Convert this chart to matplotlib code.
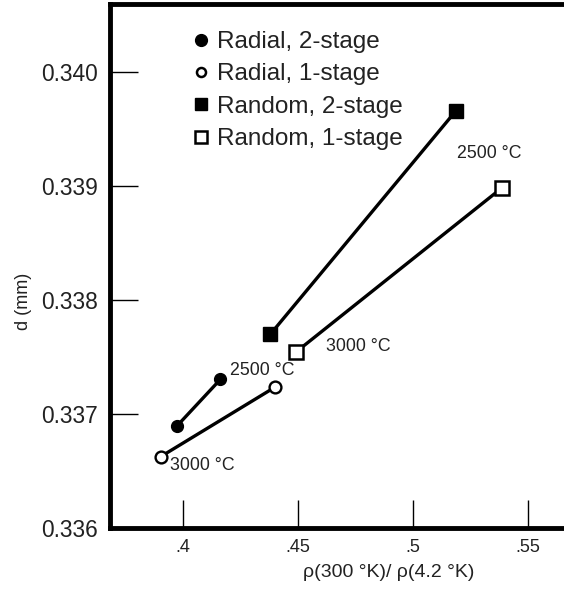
import matplotlib
matplotlib.use("Agg")
import matplotlib.pyplot as plt
from matplotlib.lines import Line2D

plt.rcParams['font.family'] = ['Liberation Sans', 'DejaVu Sans']

# Data
radial_2stage_x = [0.3973, 0.4162]
radial_2stage_y = [0.336894, 0.337303]
radial_1stage_x = [0.3902, 0.4398]
radial_1stage_y = [0.336625, 0.337233]
random_2stage_x = [0.4379, 0.5186]
random_2stage_y = [0.337698, 0.339657]
random_1stage_x = [0.4492, 0.5385]
random_1stage_y = [0.337545, 0.338980]

series_labels = ["Radial, 2-stage", "Radial, 1-stage", "Random, 2-stage", "Random, 1-stage"]
xticks = [0.40, 0.45, 0.50, 0.55]
xtick_labels = [".4", ".45", ".5", ".55"]
yticks = [0.336, 0.337, 0.338, 0.339, 0.340]
ytick_labels = ["0.336", "0.337", "0.338", "0.339", "0.340"]

annotations = [
    ("2500 °C", 0.5191, 0.339287),
    ("3000 °C", 0.4622, 0.337589),
    ("2500 °C", 0.4203, 0.337379),
    ("3000 °C", 0.3942, 0.336546),
]

txt_color = '#222222'

fig = plt.figure(figsize=(5.64, 5.92), dpi=100)
ax = fig.add_axes([110/564, 64/592, 454/564, 524.5/592])

lw = 2.4
ms = 8.5
ax.plot(radial_2stage_x, radial_2stage_y, '-o', color='black', lw=lw, ms=ms,
        mfc='black', mec='black', label=series_labels[0])
ax.plot(radial_1stage_x, radial_1stage_y, '-o', color='black', lw=lw, ms=ms,
        mfc='white', mec='black', mew=1.7, label=series_labels[1])
ax.plot(random_2stage_x, random_2stage_y, '-s', color='black', lw=lw, ms=10.5,
        mfc='black', mec='black', label=series_labels[2])
ax.plot(random_1stage_x, random_1stage_y, '-s', color='black', lw=lw, ms=10.5,
        mfc='white', mec='black', mew=1.8, label=series_labels[3])

for txt, x, y in annotations:
    ax.text(x, y, txt, ha='left', va='center', fontsize=12.8, color=txt_color)

ax.set_xlim(0.3682, 0.5656)
ax.set_ylim(0.336, 0.340598)
ax.set_xticks(xticks)
ax.set_xticklabels(xtick_labels)
ax.set_yticks(yticks)
ax.set_yticklabels(ytick_labels)
ax.tick_params(direction='in', length=20, width=1.0, color='black', labelcolor=txt_color)
ax.tick_params(axis='x', labelsize=13, pad=8)
ax.tick_params(axis='y', labelsize=16.4, pad=9)

for side in ['left', 'bottom', 'top']:
    ax.spines[side].set_linewidth(3.5)
ax.spines['right'].set_visible(False)

ax.set_ylabel("d (mm)", fontsize=13, color=txt_color)
ax.yaxis.set_label_coords((32 - 110) / 454, (528 - 301) / 524.5)
ax.set_xlabel("ρ(300 °K)/ ρ(4.2 °K)", fontsize=14, color=txt_color)
ax.xaxis.set_label_coords((389 - 110) / 454, (528 - 564) / 524.5)

handles = [
    Line2D([], [], marker='o', ls='none', ms=8.5, mfc='black', mec='black'),
    Line2D([], [], marker='o', ls='none', ms=6.5, mfc='white', mec='black', mew=1.8),
    Line2D([], [], marker='s', ls='none', ms=8.5, mfc='black', mec='black'),
    Line2D([], [], marker='s', ls='none', ms=8.0, mfc='white', mec='black', mew=1.8),
]
leg = ax.legend(handles, series_labels, loc='upper left',
                bbox_to_anchor=(195/564, 1 - 31/592), bbox_transform=fig.transFigure,
                frameon=False, fontsize=17.5, handlelength=0.5, handletextpad=0.4,
                labelspacing=0.43, borderpad=0, borderaxespad=0)
for t in leg.get_texts():
    t.set_color(txt_color)

fig.savefig("out.png", dpi=100)
